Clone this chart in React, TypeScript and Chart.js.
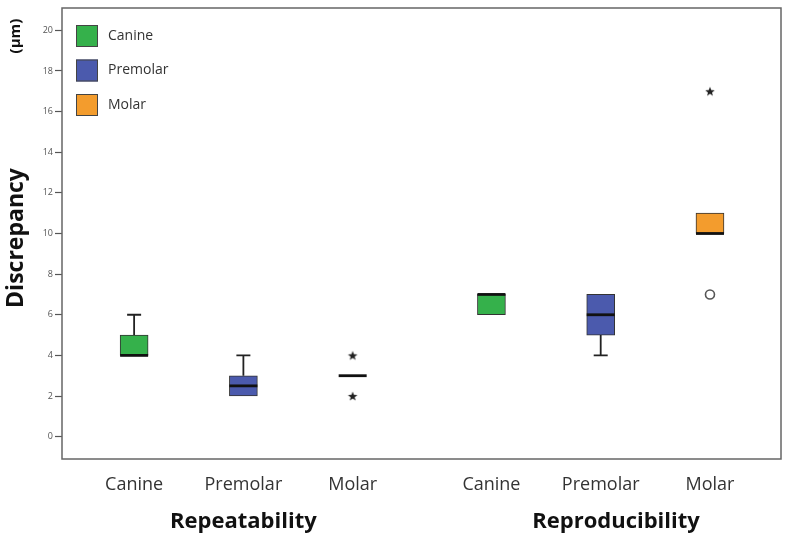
import React, { useEffect, useRef } from 'react';
import { Chart, registerables } from 'chart.js';

Chart.register(...registerables);

const groupLabels = ['Repeatability', 'Reproducibility'];
const toothLabels = ['Canine', 'Premolar', 'Molar'];
const yTickValues = [0, 2, 4, 6, 8, 10, 12, 14, 16, 18, 20];

// five-number summaries [min, q1, median, q3, max]; index 0 = Repeatability, 1 = Reproducibility
const canineStats = [[4, 4, 4, 5, 6], [6, 6, 7, 7, 7]];
const premolarStats = [[2, 2, 2.5, 3, 4], [4, 5, 6, 7, 7]];
const molarStats = [[3, 3, 3, 3, 3], [10, 10, 10, 11, 11]];

// extreme values (stars) and outliers (circles)
const canineExtremes = [[], []];
const premolarExtremes = [[], []];
const molarExtremes = [[4, 2], [17]];
const canineOutliers = [[], []];
const premolarOutliers = [[], []];
const molarOutliers = [[], [7]];

const toothColors = ['#35b14b', '#4b5aad', '#f39c2d'];

const allStats = [canineStats, premolarStats, molarStats];
const allExtremes = [canineExtremes, premolarExtremes, molarExtremes];
const allOutliers = [canineOutliers, premolarOutliers, molarOutliers];

const GROUP_SPAN = 3.27;
const xPos = (g: number, t: number) => 1 + t + g * GROUP_SPAN;

const FONT = '"Open Sans", "Noto Sans", sans-serif';

function makeStar(): HTMLCanvasElement {
  const c = document.createElement('canvas');
  c.width = 12;
  c.height = 12;
  const ctx = c.getContext('2d')!;
  ctx.fillStyle = '#222';
  ctx.beginPath();
  const cx = 6, cy = 6.5, R = 5, r = 2.1;
  for (let i = 0; i < 10; i++) {
    const ang = -Math.PI / 2 + (i * Math.PI) / 5;
    const rad = i % 2 === 0 ? R : r;
    const x = cx + rad * Math.cos(ang);
    const y = cy + rad * Math.sin(ang);
    if (i === 0) ctx.moveTo(x, y);
    else ctx.lineTo(x, y);
  }
  ctx.closePath();
  ctx.fill();
  return c;
}

const boxPlugin = {
  id: 'boxExtras',
  afterDatasetsDraw(chart: any) {
    const { ctx, scales } = chart;
    const xs = scales.x, ys = scales.y;
    ctx.save();
    allStats.forEach((stats, t) => {
      stats.forEach((s, g) => {
        const [mn, q1, med, q3, mx] = s;
        const px = xs.getPixelForValue(xPos(g, t));
        const half = 14;
        const cap = 7;
        ctx.strokeStyle = '#222';
        ctx.lineWidth = 1.8;
        if (mx > q3) {
          ctx.beginPath();
          ctx.moveTo(px, ys.getPixelForValue(q3));
          ctx.lineTo(px, ys.getPixelForValue(mx));
          ctx.moveTo(px - cap, ys.getPixelForValue(mx));
          ctx.lineTo(px + cap, ys.getPixelForValue(mx));
          ctx.stroke();
        }
        if (mn < q1) {
          ctx.beginPath();
          ctx.moveTo(px, ys.getPixelForValue(q1));
          ctx.lineTo(px, ys.getPixelForValue(mn));
          ctx.moveTo(px - cap, ys.getPixelForValue(mn));
          ctx.lineTo(px + cap, ys.getPixelForValue(mn));
          ctx.stroke();
        }
        ctx.strokeStyle = '#111';
        ctx.lineWidth = 2.8;
        ctx.beginPath();
        const my = ys.getPixelForValue(med);
        ctx.moveTo(px - half, my);
        ctx.lineTo(px + half, my);
        ctx.stroke();
      });
    });
    ctx.restore();
  },
  afterDraw(chart: any) {
    const { ctx, chartArea, scales } = chart;
    const xs = scales.x;
    ctx.save();
    // frame
    ctx.strokeStyle = '#666';
    ctx.lineWidth = 1.5;
    ctx.strokeRect(chartArea.left, chartArea.top, chartArea.right - chartArea.left, chartArea.bottom - chartArea.top);

    // legend
    toothLabels.forEach((lab, i) => {
      const top = chartArea.top + 17 + i * 34.5;
      ctx.fillStyle = toothColors[i];
      ctx.fillRect(chartArea.left + 14, top, 22, 22);
      ctx.strokeStyle = '#444';
      ctx.lineWidth = 1;
      ctx.strokeRect(chartArea.left + 14.5, top + 0.5, 21, 21);
      ctx.fillStyle = '#333';
      ctx.font = `14px ${FONT}`;
      ctx.textAlign = 'left';
      ctx.textBaseline = 'middle';
      ctx.fillText(lab, chartArea.left + 46, top + 11);
    });

    // group labels
    ctx.fillStyle = '#111';
    ctx.font = `bold 22px ${FONT}`;
    ctx.textAlign = 'center';
    ctx.textBaseline = 'middle';
    const groupCenters = [xs.getPixelForValue(xPos(0, 1)), xs.getPixelForValue(xPos(1, 1) + 0.14)];
    groupLabels.forEach((lab, g) => {
      ctx.fillText(lab, groupCenters[g], 522);
    });

    // y titles
    ctx.save();
    ctx.translate(16, 238);
    ctx.rotate(-Math.PI / 2);
    ctx.font = `bold 23px ${FONT}`;
    ctx.fillText('Discrepancy', 0, 0);
    ctx.restore();
    ctx.save();
    ctx.translate(16, 36);
    ctx.rotate(-Math.PI / 2);
    ctx.font = `bold 15px ${FONT}`;
    ctx.fillText('(μm)', 0, 0);
    ctx.restore();
    ctx.restore();
  },
};

export default function App() {
  const ref = useRef<HTMLCanvasElement>(null);
  useEffect(() => {
    document.body.style.margin = '0';
    const star = makeStar();
    const xTickValues: number[] = [];
    const xTickLabels: string[] = [];
    groupLabels.forEach((_, g) => {
      toothLabels.forEach((lab, t) => {
        xTickValues.push(xPos(g, t));
        xTickLabels.push(lab);
      });
    });

    const barSets = toothLabels.map((lab, t) => ({
      type: 'bar' as const,
      label: lab,
      data: groupLabels.map((_, g) => ({ x: xPos(g, t), y: [allStats[t][g][1], allStats[t][g][3]] })),
      backgroundColor: toothColors[t],
      borderColor: '#333',
      borderWidth: 1,
      borderSkipped: false,
      barThickness: 28,
      grouped: false,
    }));

    const extremeSet = {
      type: 'scatter' as const,
      label: 'Extremes',
      data: allExtremes.flatMap((ex, t) =>
        ex.flatMap((vals, g) => vals.map((v) => ({ x: xPos(g, t), y: v })))
      ),
      pointStyle: star,
      pointRadius: 6,
    };
    const outlierSet = {
      type: 'scatter' as const,
      label: 'Outliers',
      data: allOutliers.flatMap((ou, t) =>
        ou.flatMap((vals, g) => vals.map((v) => ({ x: xPos(g, t), y: v })))
      ),
      pointStyle: 'circle',
      pointRadius: 4.5,
      borderColor: '#555',
      borderWidth: 1.6,
      backgroundColor: '#fff',
    };

    const chart = new Chart(ref.current!, {
      type: 'bar',
      data: { datasets: [...barSets, extremeSet, outlierSet] as any },
      options: {
        animation: false,
        responsive: false,
        layout: { padding: { left: 0, top: 8, right: 10, bottom: 0 } },
        plugins: { legend: { display: false }, tooltip: { enabled: false } },
        scales: {
          x: {
            type: 'linear',
            offset: false,
            min: 0.34,
            max: 6.92,
            grid: { display: false, offset: false },
            border: { display: false },
            afterBuildTicks: (scale: any) => {
              scale.ticks = xTickValues.map((v) => ({ value: v }));
            },
            afterFit: (scale: any) => {
              scale.height = 82;
            },
            ticks: {
              autoSkip: false,
              maxRotation: 0,
              padding: 7,
              color: '#333',
              font: { family: FONT, size: 18 },
              callback: (_v: any, i: number) => xTickLabels[i],
            },
          },
          y: {
            type: 'linear',
            min: -1.1,
            max: 21.1,
            grid: { drawOnChartArea: false, drawTicks: true, tickLength: 7, tickColor: '#555', tickWidth: 1.2 },
            border: { display: false },
            afterBuildTicks: (scale: any) => {
              scale.ticks = yTickValues.map((v) => ({ value: v }));
            },
            afterFit: (scale: any) => {
              scale.width = 62;
            },
            ticks: {
              padding: 2,
              color: '#555',
              font: { family: FONT, size: 9 },
            },
          },
        },
      },
      plugins: [boxPlugin],
    });
    return () => chart.destroy();
  }, []);
  return (
    <div style={{ width: 791, height: 541 }}>
      <canvas ref={ref} width={791} height={541} style={{ display: 'block' }} />
    </div>
  );
}
